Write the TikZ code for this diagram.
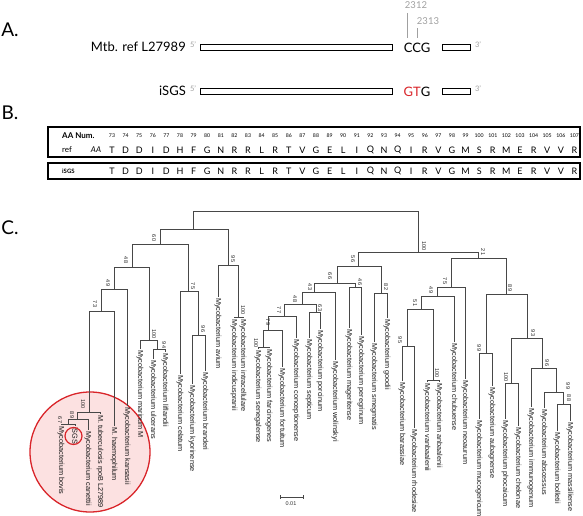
\documentclass[tikz,border=0pt]{standalone}
\usepackage{fontspec}
\setmainfont{Lato}
\newfontfamily\treefont{Liberation Sans}
\definecolor{mred}{HTML}{D9252A}
\definecolor{mpink}{HTML}{FCE1E1}
\definecolor{posgray}{HTML}{A0A0A0}
\begin{document}
\begin{tikzpicture}[x=1pt,y=-1pt,
  hdr/.style={font=\fontsize{19}{20}\selectfont, inner sep=0},
  lbl/.style={font=\fontsize{13}{14}\selectfont, inner sep=0},
  prime/.style={font=\fontsize{7.5}{8}\selectfont, text=posgray, inner sep=0},
  posn/.style={font=\fontsize{9.5}{10}\selectfont, text=posgray, inner sep=0},
  seqbox/.style={draw, line width=0.9pt},
  tbl/.style={draw, line width=1.6pt},
  num/.style={font=\fontsize{5.2}{6}\selectfont, inner sep=0},
  aa/.style={font=\fontsize{9}{10}\selectfont, inner sep=0},
  leaf/.style={font=\treefont\fontsize{7.3}{8}\selectfont, rotate=-90, anchor=west, inner sep=0.8pt, text=black!90},
  bs/.style={font=\treefont\fontsize{5.5}{6}\selectfont, rotate=-90, inner sep=0, text=black!85},
  br/.style={draw=black!72, line width=0.65pt}]
\useasboundingbox (0,0) rectangle (583,516);
% ---------- A ----------
\node[hdr] (A) at (10,30) {A.};
\node[lbl, anchor=east] (mtb) at (186,47) {Mtb. ref L27989};
\node[prime] (p5a) at (193,45) {5'};
\draw[seqbox] (200,44) rectangle (392,50);
\node[lbl] (ccg) at (417,47.5) {CCG};
\draw[seqbox] (442,44) rectangle (470,50);
\node[prime] (p3a) at (478,45) {3'};
\node[posn] (n2312) at (416,5) {2312};
\node[posn] (n2313) at (428,21) {2313};
\coordinate (t1a) at (407,13); \coordinate (t1b) at (407,38);
\coordinate (t2a) at (417,28); \coordinate (t2b) at (417,38);
\draw[posgray, line width=0.7pt] (t1a) -- (t1b);
\draw[posgray, line width=0.7pt] (t2a) -- (t2b);
\node[lbl, anchor=east] (isgsA) at (186,91) {iSGS};
\node[prime] (p5b) at (193,89) {5'};
\draw[seqbox] (200,88) rectangle (392,94);
\node[lbl] (gtg) at (417,91.5) {\textcolor{mred}{GT}G};
\draw[seqbox] (442,88) rectangle (470,94);
\node[prime] (p3b) at (478,89) {3'};
% ---------- B ----------
\node[hdr] (B) at (10,113) {B.};
\draw[tbl] (48,127) rectangle (580,157);
\draw[tbl] (48,163) rectangle (580,179);
\node[font=\bfseries\fontsize{8}{9}\selectfont, inner sep=0, anchor=west] (aanum) at (62,136) {AA Num.};
\node[font=\fontsize{8}{9}\selectfont, inner sep=0, anchor=west] (refl) at (62,150) {ref};
\node[font=\itshape\fontsize{8}{9}\selectfont, inner sep=0] (aai) at (96,150) {AA};
\node[font=\bfseries\fontsize{6}{7}\selectfont, inner sep=0, anchor=west] (isgsB) at (62,171) {iSGS};
\foreach \n [count=\i from 0] in {73,74,75,76,77,78,79,80,81,82,83,84,85,86,87,88,89,90,91,92,93,94,95,96,97,98,99,100,101,102,103,104,105,106,107}
  \node[num] (num\i) at ({112+\i*13.6},136) {\n};
\foreach \a [count=\i from 0] in {T,D,D,I,D,H,F,G,N,R,R,L,R,T,V,G,E,L,I,Q,N,Q,I,R,V,G,M,S,R,M,E,R,V,V,R}
  {\node[aa] (ref\i) at ({112+\i*13.6},150) {\a};
   \node[aa] (sgs\i) at ({112+\i*13.6},171) {\a};}
% ---------- C ----------
\node[hdr] (C) at (10,228) {C.};
\fill[mpink] (90,452) circle (60);
\draw[mred, line width=1.3pt] (90,452) circle (60);
% internal nodes
\coordinate (root) at (300,211);
\coordinate (L1) at (193,229);
\coordinate (R1) at (418,252);
\coordinate (n60) at (160,244);
\coordinate (n95) at (228,265);
\coordinate (n48) at (132,267);
\coordinate (n75) at (188,291);
\coordinate (n49) at (114,289);
\coordinate (nMar) at (149,340);
\coordinate (n73) at (101,311);
\coordinate (nTb) at (89,412);
\coordinate (n89) at (77,419);
\coordinate (n67) at (68,424);
\coordinate (n94) at (157,349);
\coordinate (n96) at (198,335);
\coordinate (nInt) at (238,317);
\coordinate (n56) at (358,266);
\coordinate (n21) at (478,258);
\coordinate (n66) at (337,283);
\coordinate (n82) at (381,293);
\coordinate (n43) at (314,292);
\coordinate (n46) at (355,287);
\coordinate (n48b) at (302,304);
\coordinate (n63) at (316,312);
\coordinate (n77) at (284,316);
\coordinate (n79) at (268,330);
\coordinate (nFar) at (263,347);
\coordinate (n75b) at (451,287);
\coordinate (n49b) at (437,296);
\coordinate (n51) at (421,309);
\coordinate (n95b) at (407,346);
\coordinate (nVan) at (433,380);
\coordinate (n89b) at (506,294);
\coordinate (n99) at (486,353);
\coordinate (n93) at (527,338);
\coordinate (nPho) at (511,383);
\coordinate (n96b) at (542,368);
\coordinate (n99b) at (556,392);
\coordinate (n88) at (563,404);
% leaves
\node[leaf] (bovis) at (61,425) {Mycobacterium bovis};
\node[leaf] (isgs) at (75,426) {iSGS};
\node[leaf] (canettii) at (88,430) {Mycobacterium canettii};
\node[leaf] (tb) at (100,414) {M. tuberculosis rpoB L27989};
\node[leaf] (haemo) at (114,426) {M. haemophilum};
\node[leaf] (kans) at (127,406) {Mycobacterium kansasii};
\node[leaf] (marin) at (140,349) {Mycobacterium marinum M};
\node[leaf] (ulcer) at (153,359) {Mycobacterium ulcerans};
\node[leaf] (lifl) at (165,352) {Mycobacterium liflandii};
\node[leaf] (celat) at (180,374) {Mycobacterium celatum};
\node[leaf] (kyor) at (192,384) {Mycobacterium kyorinense};
\node[leaf] (brand) at (205,371) {Mycobacterium branderi};
\node[leaf] (avium) at (218,297) {Mycobacterium avium};
\node[leaf] (indic) at (234,318) {Mycobacterium indicuspranii};
\node[leaf] (intra) at (243,318) {Mycobacterium intracellulare};
\node[leaf] (seneg) at (258,349) {Mycobacterium senegalense};
\node[leaf] (farc) at (269,348) {Mycobacterium farcinogenes};
\node[leaf] (fort) at (282,367) {Mycobacterium fortuitum};
\node[leaf] (conc) at (296,338) {Mycobacterium conceptionense};
\node[leaf] (sept) at (309,338) {Mycobacterium septicum};
\node[leaf] (porc) at (320,329) {Mycobacterium porcinum};
\node[leaf] (wolin) at (335,360) {Mycobacterium wolinskyi};
\node[leaf] (mager) at (349,328) {Mycobacterium mageritense};
\node[leaf] (pereg) at (361,335) {Mycobacterium peregrinum};
\node[leaf] (smeg) at (374,342) {Mycobacterium smegmatis};
\node[leaf] (good) at (387,318) {Mycobacterium goodii};
\node[leaf] (barr) at (402,381) {Mycobacterium barassiae};
\node[leaf] (rhod) at (414,428) {Mycobacterium rhodesiae};
\node[leaf] (vanb) at (427,382) {Mycobacterium vanbaalenii};
\node[leaf] (anba) at (439,382) {Mycobacterium anbaalenii};
\node[leaf] (chub) at (454,342) {Mycobacterium chubuense};
\node[leaf] (neoa) at (465,379) {Mycobacterium neoaurum};
\node[leaf] (mucog) at (479,419) {Mycobacterium mucogenicum};
\node[leaf] (aubag) at (492,386) {Mycobacterium aubagnense};
\node[leaf] (phoc) at (505,419) {Mycobacterium phocaicum};
\node[leaf] (chel) at (518,426) {Mycobacterium chelonae};
\node[leaf] (immu) at (531,407) {Mycobacterium immunogenum};
\node[leaf] (absc) at (544,408) {Mycobacterium abscessus};
\node[leaf] (bolle) at (557,431) {Mycobacterium bolletii};
\node[leaf] (massi) at (570,421) {Mycobacterium massiliense};
% branches
\foreach \p/\c in {root/L1, root/R1, L1/n60, L1/n95, n60/n48, n60/n75, n48/n49, n48/nMar,
  n49/n73, n73/nTb, nTb/n89, n89/n67, nMar/n94, n75/n96, n95/nInt,
  R1/n56, R1/n21, n56/n66, n56/n82, n66/n43, n66/n46, n43/n48b, n48b/n77, n48b/n63,
  n77/n79, n79/nFar, n21/n75b, n21/n89b, n75b/n49b, n49b/n51, n51/n95b, n51/nVan,
  n89b/n99, n89b/n93, n93/nPho, n93/n96b, n96b/n99b, n99b/n88}
  \draw[br] (\p) -| (\c);
\foreach \p/\c in {n67/bovis, n67/isgs, n89/canettii, nTb/tb, n73/haemo, n49/kans,
  nMar/marin, n94/ulcer, n94/lifl, n75/celat, n96/kyor, n96/brand, n95/avium,
  nInt/indic, nInt/intra, nFar/seneg, nFar/farc, n79/fort, n77/conc, n63/sept, n63/porc,
  n43/wolin, n46/mager, n46/pereg, n82/smeg, n82/good, n95b/barr, n95b/rhod,
  nVan/vanb, nVan/anba, n49b/chub, n75b/neoa, n99/mucog, n99/aubag, nPho/phoc, nPho/chel,
  n96b/immu, n99b/absc, n88/bolle, n88/massi}
  \draw[br] (\p) -| (\c.west);
% bootstrap values
\node[bs] (b60) at (154,238) {60};
\node[bs] (b48) at (126,260) {48};
\node[bs] (b49) at (108,283) {49};
\node[bs] (b73) at (95,304) {73};
\node[bs] (b100tb) at (83,404) {100};
\node[bs] (b89) at (72,415) {89};
\node[bs] (b67) at (60,420) {67};
\node[bs] (b100m) at (154,334) {100};
\node[bs] (b94) at (164,345) {94};
\node[bs] (b75) at (193,286) {75};
\node[bs] (b96) at (203,329) {96};
\node[bs] (b95) at (233,259) {95};
\node[bs] (b100i) at (243,310) {100};
\node[bs] (b100r) at (424,246) {100};
\node[bs] (b56) at (353,259) {56};
\node[bs] (b66) at (330,276) {66};
\node[bs] (b43) at (310,287) {43};
\node[bs] (b48b) at (295,299) {48};
\node[bs] (b77) at (279,310) {77};
\node[bs] (b79) at (268,322) {79};
\node[bs] (b100f) at (256,343) {100};
\node[bs] (b63) at (320,308) {63};
\node[bs] (b46) at (360,282) {46};
\node[bs] (b82) at (386,287) {82};
\node[bs] (b21) at (483,252) {21};
\node[bs] (b75b) at (445,281) {75};
\node[bs] (b49b) at (431,290) {49};
\node[bs] (b51) at (415,303) {51};
\node[bs] (b95b) at (400,340) {95};
\node[bs] (b100v) at (437,373) {100};
\node[bs] (b89b) at (510,288) {89};
\node[bs] (b99) at (479,348) {99};
\node[bs] (b93) at (533,333) {93};
\node[bs] (b100p) at (506,377) {100};
\node[bs] (b96b) at (547,363) {96};
\node[bs] (b99b) at (568,386) {99};
\node[bs] (b88) at (569,398) {88};
% small circle around iSGS
\draw[mred, line width=1.2pt] (73.5,436) circle (8.5);
% scale bar
\coordinate (sb1) at (280,497); \coordinate (sb2) at (303,497);
\draw[br] (sb1) -- (sb2);
\draw[br] (280,495) -- (280,499);
\draw[br] (303,495) -- (303,499);
\node[font=\treefont\fontsize{5.5}{6}\selectfont, inner sep=0, text=black!80] (sbl) at (291,504) {0.01};
\end{tikzpicture}
\end{document}
